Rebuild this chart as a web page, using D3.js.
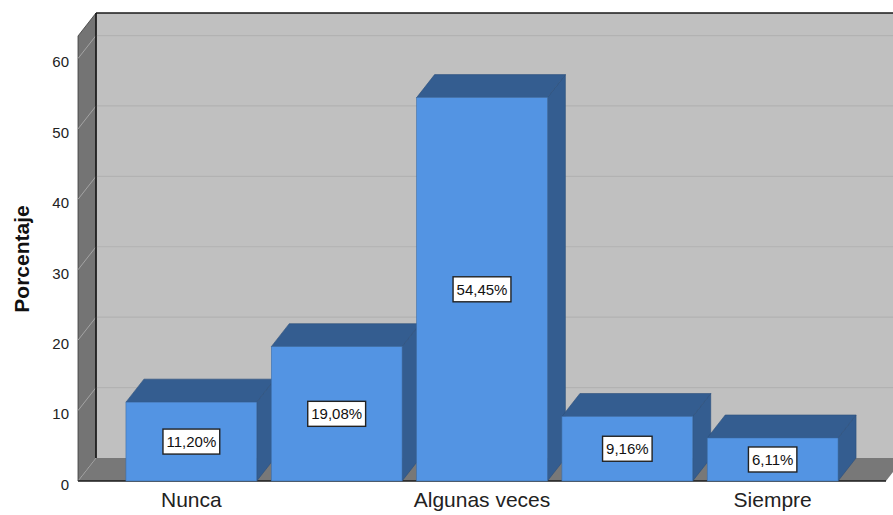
<!DOCTYPE html>
<html>
<head>
<meta charset="utf-8">
<script src="https://cdn.jsdelivr.net/npm/d3@7"></script>
<style>
  html, body { margin: 0; padding: 0; background: #ffffff; }
  svg { display: block; font-family: "Liberation Sans", Arial, sans-serif; }
</style>
</head>
<body>
<svg id="chart" width="893" height="515"></svg>
<script>
// Response categories (every other one gets a visible axis label)
const categories = ["Nunca", "Casi nunca", "Algunas veces", "Casi siempre", "Siempre"];
// Percentage of responses per category
const percentages = [11.20, 19.08, 54.45, 9.16, 6.11];
// Value axis ticks
const yTicks = [0, 10, 20, 30, 40, 50, 60];
const yTitle = "Porcentaje";

const svg = d3.select("#chart");

// Front plane of the 3D box and the depth offset of the back plane
const front = { left: 78, right: 886, top: 36, bottom: 481 };
const depth = { dx: 18, dy: -23 };

const y = d3.scaleLinear().domain([0, 63.2]).range([front.bottom, front.top]);
const x = d3.scaleBand()
  .domain(categories)
  .range([front.left, front.right])
  .paddingInner(0.1)
  .paddingOuter(0.33);

const fmt = v => d3.format(".2f")(v).replace(".", ",") + "%";

// --- Walls ---
// back wall
svg.append("rect")
  .attr("x", front.left + depth.dx)
  .attr("y", front.top + depth.dy)
  .attr("width", 893 - (front.left + depth.dx) + 20)
  .attr("height", front.bottom - front.top)
  .attr("fill", "#c0c0c0");

// left side wall
svg.append("polygon")
  .attr("points", [
    [front.left, front.bottom],
    [front.left, front.top],
    [front.left + depth.dx, front.top + depth.dy],
    [front.left + depth.dx, front.bottom + depth.dy]
  ].map(p => p.join(",")).join(" "))
  .attr("fill", "#747474")
  .attr("stroke", "#3a3a3a")
  .attr("stroke-width", 0.8);

// floor
svg.append("polygon")
  .attr("points", [
    [front.left, front.bottom],
    [front.right, front.bottom],
    [front.right + depth.dx, front.bottom + depth.dy],
    [front.left + depth.dx, front.bottom + depth.dy]
  ].map(p => p.join(",")).join(" "))
  .attr("fill", "#787878");

// gridlines on back wall and the matching diagonals on the side wall
const grid = svg.append("g");
yTicks.filter(t => t > 0).forEach(t => {
  grid.append("line")
    .attr("x1", front.left + depth.dx).attr("x2", 893)
    .attr("y1", y(t) + depth.dy).attr("y2", y(t) + depth.dy)
    .attr("stroke", "#b2b2b2").attr("stroke-width", 1.2);
});
yTicks.forEach(t => {
  grid.append("line")
    .attr("x1", front.left).attr("y1", y(t))
    .attr("x2", front.left + depth.dx).attr("y2", y(t) + depth.dy)
    .attr("stroke", "#a4a4a4").attr("stroke-width", 1);
});

// back wall edges
svg.append("line")
  .attr("x1", front.left + depth.dx).attr("x2", 893)
  .attr("y1", front.top + depth.dy).attr("y2", front.top + depth.dy)
  .attr("stroke", "#1a1a1a").attr("stroke-width", 1.6);
svg.append("line")
  .attr("x1", front.left + depth.dx).attr("x2", front.left + depth.dx)
  .attr("y1", front.top + depth.dy).attr("y2", front.bottom + depth.dy)
  .attr("stroke", "#1a1a1a").attr("stroke-width", 1.6);

// front baseline
svg.append("line")
  .attr("x1", front.left).attr("x2", front.right)
  .attr("y1", front.bottom).attr("y2", front.bottom)
  .attr("stroke", "#1a1a1a").attr("stroke-width", 1.6);

// --- Bars ---
const bars = svg.append("g").selectAll("g")
  .data(categories.map((c, i) => ({ c, v: percentages[i] })))
  .join("g");

const faceDark = "#345d90";
const faceFront = "#5394e3";

// side face
bars.append("polygon")
  .attr("points", d => {
    const x1 = x(d.c) + x.bandwidth();
    return [
      [x1, y(d.v)], [x1 + depth.dx, y(d.v) + depth.dy],
      [x1 + depth.dx, y(0) + depth.dy], [x1, y(0)]
    ].map(p => p.join(",")).join(" ");
  })
  .attr("fill", faceDark).attr("stroke", "#2c4f7a").attr("stroke-width", 0.6);

// top face
bars.append("polygon")
  .attr("points", d => {
    const x0 = x(d.c), x1 = x0 + x.bandwidth();
    return [
      [x0, y(d.v)], [x1, y(d.v)],
      [x1 + depth.dx, y(d.v) + depth.dy], [x0 + depth.dx, y(d.v) + depth.dy]
    ].map(p => p.join(",")).join(" ");
  })
  .attr("fill", faceDark).attr("stroke", "#2c4f7a").attr("stroke-width", 0.6);

// front face
bars.append("rect")
  .attr("x", d => x(d.c))
  .attr("y", d => y(d.v))
  .attr("width", x.bandwidth())
  .attr("height", d => y(0) - y(d.v))
  .attr("fill", faceFront).attr("stroke", "#3f6fa8").attr("stroke-width", 0.6);

// value labels
bars.each(function(d) {
  const g = d3.select(this);
  const cx = x(d.c) + x.bandwidth() / 2;
  const cy = (y(d.v) + y(0)) / 2;
  const t = g.append("text")
    .attr("x", cx).attr("y", cy + 5.5)
    .attr("text-anchor", "middle")
    .attr("font-size", 15)
    .attr("fill", "#111")
    .text(fmt(d.v));
  const w = t.node().getComputedTextLength() + 7;
  g.insert("rect", "text")
    .attr("x", cx - w / 2).attr("y", cy - 12.5)
    .attr("width", w).attr("height", 25)
    .attr("fill", "#ffffff")
    .attr("stroke", "#222").attr("stroke-width", 1.4);
});

// --- Axes ---
const yAxis = d3.axisLeft(y).tickValues(yTicks).tickSize(0).tickPadding(9);
svg.append("g")
  .attr("transform", `translate(${front.left},0)`)
  .call(yAxis)
  .call(g => g.select(".domain").remove())
  .call(g => g.selectAll("text")
    .attr("font-size", 15)
    .attr("font-family", "'Liberation Sans', Arial, sans-serif")
    .attr("fill", "#222")
    .attr("dy", "0.55em"));

const xAxis = d3.axisBottom(x)
  .tickValues(categories.filter((c, i) => i % 2 === 0))
  .tickSize(0).tickPadding(11);
svg.append("g")
  .attr("transform", `translate(0,${front.bottom})`)
  .call(xAxis)
  .call(g => g.select(".domain").remove())
  .call(g => g.selectAll("text")
    .attr("font-size", 21)
    .attr("font-family", "'Liberation Sans', Arial, sans-serif")
    .attr("fill", "#222"));

// axis title
svg.append("text")
  .attr("transform", `translate(29,259) rotate(-90)`)
  .attr("text-anchor", "middle")
  .attr("font-size", 21)
  .attr("font-weight", "bold")
  .attr("fill", "#111")
  .text(yTitle);
</script>
</body>
</html>
